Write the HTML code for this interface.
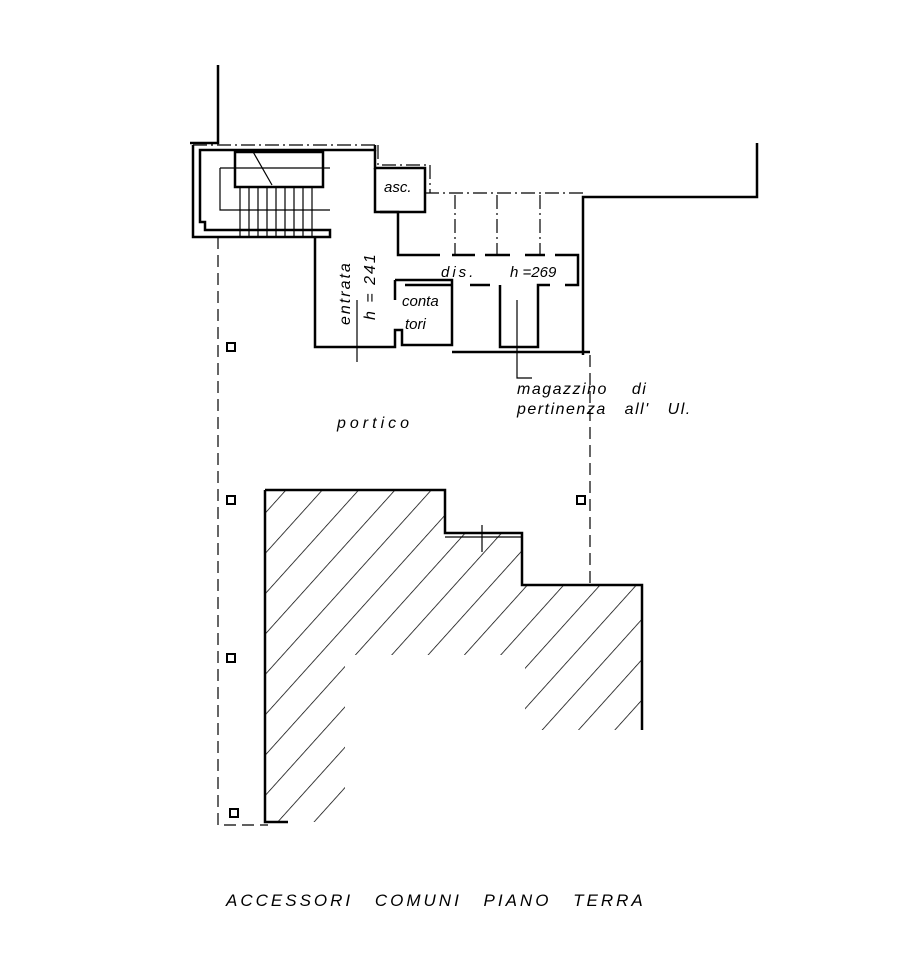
<!DOCTYPE html>
<html><head><meta charset="utf-8"><style>
html,body{margin:0;padding:0;background:#fff;}
svg{display:block;}
text{font-family:"Liberation Sans",sans-serif;font-style:italic;fill:#000;}
</style></head><body>
<svg width="914" height="962" viewBox="0 0 914 962" xmlns="http://www.w3.org/2000/svg">
<defs>
<pattern id="h" patternUnits="userSpaceOnUse" width="27" height="27" patternTransform="rotate(42)">
<line x1="0" y1="0" x2="0" y2="27" stroke="#000" stroke-width="1.5"/>
</pattern>
<clipPath id="c">
<path d="M265,490 H445 V533 H522 V585 H642 V730 H525 V655 H345 V822 H265 Z"/>
</clipPath>
</defs>
<g fill="none" stroke="#000" stroke-width="2.5">
<path d="M218,65 V143 H190"/>
<path d="M757,143 V197 H583 V355"/>
<path d="M193,145 V237 H330 V230 H205 V222 H200 V150 H375 V145"/>
<rect x="235" y="152" width="88" height="35"/>
<path d="M315,237 V347 H395 V330 H402 V345 H452 V300"/>
<path d="M395,280 V300"/>
<path d="M375,150 V168 H425 V212 H380"/>
<path d="M375,168 V212 H398 V255 H440"/>
<path d="M395,280 H452 V300"/>
<path d="M452,352 H590"/>
<path d="M452,255 H475 M485,255 H510 M525,255 H545 M555,255 H578 V285 H565"/>
<path d="M405,285 H452 M470,285 H490 M500,285 V347 H538 V285 H550"/>
<path d="M265,490 H445 V533 H522 V585 H642 V730"/>
<path d="M265,490 V822 H288"/>
</g>
<rect x="265" y="490" width="377" height="332" fill="url(#h)" clip-path="url(#c)"/>
<g stroke="#000" stroke-width="1.2" fill="none">
<path d="M240,187 V237 M249,187 V237 M258,187 V237 M267,187 V237 M276,187 V237 M285,187 V237 M294,187 V237 M303,187 V237 M312,187 V237"/>
<path d="M220,168 H330 M220,168 V210 H330"/>
<path d="M252,150 L272,185"/>
<path d="M218,237 V825 H268" stroke-dasharray="12,6"/>
<path d="M590,355 V585" stroke-dasharray="12,6"/>
<path d="M193,145 H378 M378,145 V165 H430 V193 M425,193 H583" stroke-dasharray="14,4,2,4"/>
<path d="M455,195 V255 M497,195 V255 M540,195 V255" stroke-dasharray="14,4,2,4"/>
<path d="M357,300 V362 M517,300 V378 H532"/>
<path d="M482,525 V552 M445,537 H522"/>
</g>
<g fill="none" stroke="#000" stroke-width="2">
<rect x="227" y="343" width="8" height="8"/>
<rect x="227" y="496" width="8" height="8"/>
<rect x="227" y="654" width="8" height="8"/>
<rect x="230" y="809" width="8" height="8"/>
<rect x="577" y="496" width="8" height="8"/>
</g>
<text x="384" y="192" font-size="15">asc.</text>
<text x="441" y="277" font-size="15" letter-spacing="3">dis.</text>
<text x="510" y="277" font-size="15">h =269</text>
<text x="402" y="306" font-size="15">conta</text>
<text x="405" y="329" font-size="15">tori</text>
<text transform="translate(350,325) rotate(-90)" font-size="16" letter-spacing="2">entrata</text>
<text transform="translate(375,320) rotate(-90)" font-size="16" letter-spacing="2">h = 241</text>
<text x="517" y="394" font-size="16" letter-spacing="1.5" word-spacing="18">magazzino di</text>
<text x="517" y="414" font-size="16" letter-spacing="1.5" word-spacing="12">pertinenza all' Ul.</text>
<text x="337" y="428" font-size="16" letter-spacing="4">portico</text>
<text x="226" y="906" font-size="17" letter-spacing="3" word-spacing="14">ACCESSORI COMUNI PIANO TERRA</text>
</svg>
</body></html>
